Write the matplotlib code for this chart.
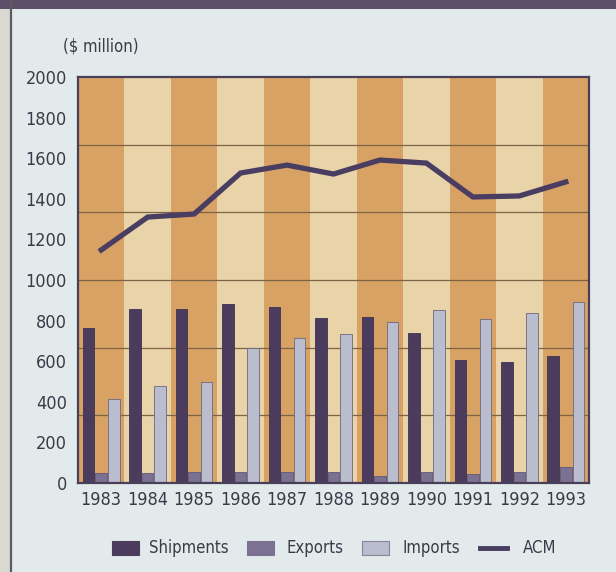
import numpy as np
import matplotlib.pyplot as plt
import matplotlib.font_manager as fm
from matplotlib.patches import Rectangle
from matplotlib.lines import Line2D

# narrow face if the system has one, otherwise Roboto at a smaller size
condensed = [f for f in fm.fontManager.ttflist
             if f.name in ('DejaVu Sans', 'Liberation Sans Narrow', 'Roboto Condensed')
             and 'condensed' in str(f.stretch)]
if condensed:
    plt.rcParams['font.family'] = [condensed[0].name, 'DejaVu Sans']
    plt.rcParams['font.stretch'] = 'condensed'
    tick_size, label_size = 13.0, 12.0
else:
    plt.rcParams['font.family'] = ['Roboto', 'DejaVu Sans']
    tick_size, label_size = 12.5, 11.5
plt.rcParams['font.weight'] = 500

# Data ($ million)
years = ['1983', '1984', '1985', '1986', '1987', '1988', '1989', '1990', '1991', '1992', '1993']
shipments = [763, 857, 855, 882, 867, 813, 818, 739, 606, 596, 626]
exports = [49, 50, 54, 54, 53, 54, 35, 54, 44, 54, 79]
imports = [414, 478, 498, 665, 714, 734, 793, 852, 808, 837, 892]
acm = [1148, 1310, 1325, 1527, 1566, 1522, 1591, 1576, 1409, 1414, 1483]

text_col = '#3b3a48'
dark_stripe = '#d8a265'
light_stripe = '#e9d4a9'
ship_col = '#4b3c5e'
exp_col = '#7b7193'
imp_col = '#b9bdcd'
acm_col = '#4a3d62'

W, H = 616, 572
fig = plt.figure(figsize=(W / 100, H / 100), dpi=100)
fig.patch.set_facecolor('#e3eaec')


def px(x, y):
    # figure pixels measured from the top-left corner
    return x / W, 1 - y / H


# page edge on the left and banner on top
fig.add_artist(Rectangle((0, 0), 10 / W, 1, transform=fig.transFigure,
                         facecolor='#d9d9d1', edgecolor='none'))
fig.add_artist(Line2D([10.5 / W, 10.5 / W], [0, 1], transform=fig.transFigure,
                      color='#5c5c60', lw=1.6))
fig.add_artist(Rectangle((0, 1 - 9 / H), 1, 9 / H, transform=fig.transFigure,
                         facecolor='#5d4f69', edgecolor='none'))

ax = fig.add_axes([78 / W, 89 / H, 511 / W, 406 / H])
x = np.arange(len(years))

for i in x:
    ax.axvspan(i - 0.5, i + 0.5, color=dark_stripe if i % 2 == 0 else light_stripe, lw=0, zorder=0)

for g in np.arange(1, 6) * 2000 / 6:
    ax.axhline(g, color='#7d6444', lw=0.9, zorder=1)

w = 0.25
ax.bar(x - 0.27, shipments, w, color=ship_col, edgecolor='#3f3350', lw=0.6, zorder=2)
ax.bar(x, exports, w, color=exp_col, edgecolor='#5f5676', lw=0.6, zorder=2)
ax.bar(x + 0.27, imports, w, color=imp_col, edgecolor='#6d6780', lw=0.6, zorder=2)
ax.plot(x, acm, color=acm_col, lw=3.8, solid_joinstyle='miter', zorder=3)

ax.set_xlim(-0.5, len(years) - 0.5)
ax.set_ylim(0, 2000)
ax.set_yticks(np.arange(0, 2001, 200))
ax.set_xticks(x)
ax.set_xticklabels(years)
ax.tick_params(length=0, labelsize=tick_size, labelcolor=text_col)
ax.tick_params(axis='y', pad=8)
ax.tick_params(axis='x', pad=6)
for s in ax.spines.values():
    s.set_color('#4a3f58')
    s.set_linewidth(1.6)

fig.text(*px(63, 47), '($ million)', fontsize=label_size, color=text_col, va='center')

# legend row
leg_y = 548
items = [(112, 'patch', ship_col, ship_col, 'Shipments', 149),
         (247, 'patch', exp_col, exp_col, 'Exports', 287),
         (362, 'patch', imp_col, '#8a8598', 'Imports', 403),
         (480, 'line', acm_col, acm_col, 'ACM', 523)]
for x0, kind, fc, ec, name, tx in items:
    if kind == 'patch':
        fig.add_artist(Rectangle(px(x0, leg_y + 7), 27 / W, 14 / H, transform=fig.transFigure,
                                 facecolor=fc, edgecolor=ec, lw=0.8))
    else:
        fig.add_artist(Line2D([x0 / W, (x0 + 27) / W], [1 - leg_y / H] * 2,
                              transform=fig.transFigure, color=fc, lw=3.5))
    fig.text(*px(tx, leg_y), name, fontsize=label_size, color=text_col, va='center')

fig.savefig('out.png', dpi=100, facecolor=fig.get_facecolor())
